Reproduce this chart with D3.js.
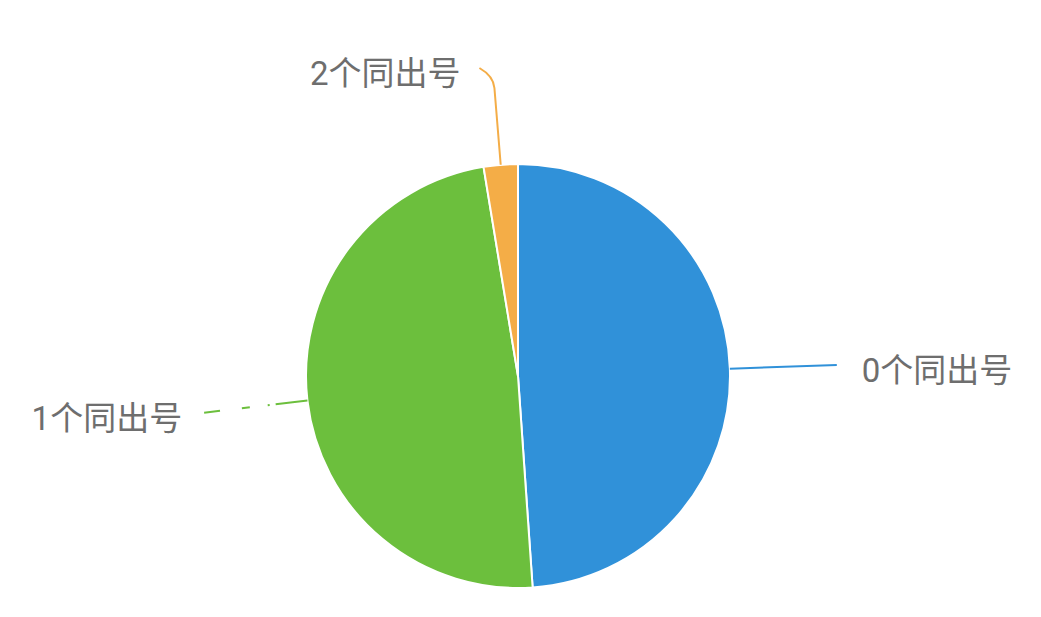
<!DOCTYPE html>
<html>
<head>
<meta charset="utf-8">
<script src="https://cdn.jsdelivr.net/npm/d3@7"></script>
<style>
  html, body { margin: 0; padding: 0; background: #fff; }
  svg { display: block; }
</style>
</head>
<body>
<svg id="chart"></svg>
<script>
// data
var categories = ['0个同出号', '1个同出号', '2个同出号'];
var values = [489, 485, 26];
var colors = ['#3091d9', '#6cbf3d', '#f4ad47'];

var width = 1041;
var height = 617;
var cx = 518, cy = 376;
var radius = 212;
var len1 = 85, len2 = 22; // label line lengths

var svg = d3.select('#chart')
  .attr('width', width)
  .attr('height', height);

var g = svg.append('g')
  .attr('transform', 'translate(' + cx + ',' + cy + ')');

var pie = d3.pie().sort(null).value(function(d) { return d; });
var arcs = pie(values);

var arc = d3.arc().innerRadius(0).outerRadius(radius);

g.selectAll('path.slice')
  .data(arcs)
  .enter().append('path')
  .attr('class', 'slice')
  .attr('d', arc)
  .style('fill', function(d, i) { return colors[i]; })
  .style('stroke', '#fff')
  .style('stroke-width', 2);

// point on radius r at angle a (d3 angles: 0 at 12 o'clock, clockwise)
function pt(a, r) {
  return [Math.sin(a) * r, -Math.cos(a) * r];
}

var labels = arcs.map(function(d, i) {
  var mid = (d.startAngle + d.endAngle) / 2;
  var side = Math.sin(mid) >= 0 ? 1 : -1;
  var p0 = pt(mid, radius);
  var path, end;
  if (Math.abs(Math.sin(mid)) > 0.5) {
    // side labels: one straight radial line
    end = pt(mid, radius + len1 + len2);
    path = 'M' + p0 + 'L' + end;
  } else {
    // top label: radial line, then a small curl to the side
    var p1 = pt(mid, radius + len1 + 4);
    var pa = pt(mid, radius + len1 - 8);
    end = [p1[0] + side * 14, p1[1] - 8];
    path = 'M' + p0 + 'L' + pa + 'Q' + p1 + ' ' + end;
  }
  return { path: path, end: end, side: side, i: i };
});

g.selectAll('path.line')
  .data(labels)
  .enter().append('path')
  .attr('class', 'line')
  .attr('d', function(d) { return d.path; })
  .style('fill', 'none')
  .style('stroke', function(d) { return colors[d.i]; })
  .style('stroke-width', 2)
  .style('stroke-dasharray', function(d) {
    // the thin left line renders broken in the reference
    return d.i === 1 ? '32,6,2,18,8,22,16' : null;
  });

g.selectAll('text.label')
  .data(labels)
  .enter().append('text')
  .attr('class', 'label')
  .attr('x', function(d) { return d.end[0] + d.side * (d.side > 0 ? 25 : 19); })
  .attr('y', function(d) { return d.end[1] + 5; })
  .attr('dy', '0.35em')
  .attr('text-anchor', function(d) { return d.side > 0 ? 'start' : 'end'; })
  .style('font-family', "Roboto, 'Noto Sans CJK SC', sans-serif")
  .style('font-size', '33px')
  .style('fill', '#6e6e6e')
  .text(function(d) { return categories[d.i]; });
</script>
</body>
</html>
